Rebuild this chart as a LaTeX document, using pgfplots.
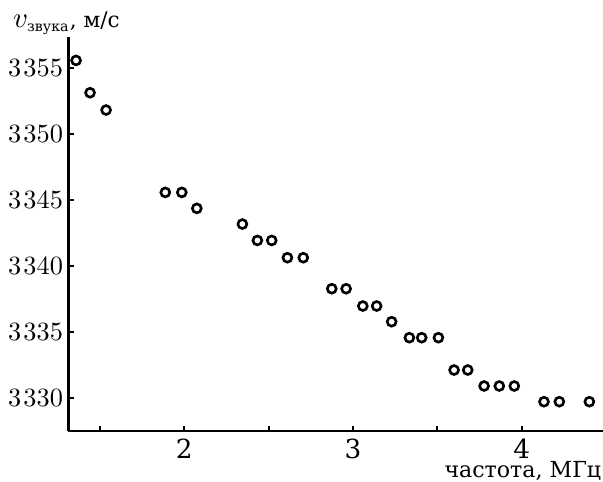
\documentclass[border=0pt]{standalone}
\usepackage{fontspec}
\setmainfont{DejaVu Serif}
\usepackage{pgfplots}
\pgfplotsset{compat=1.18}
\begin{document}
\begin{tikzpicture}[x=1pt,y=1pt]
\def\px{0.38}
\path[use as bounding box] (-68.3*\px,-51*\px) rectangle (534.7*\px,431*\px);
\begin{axis}[
  at={(0,0)}, anchor=south west,
  scale only axis,
  width=203.2pt, height=149.7pt,
  xmin=1.312, xmax=4.482,
  ymin=3327.48, ymax=3357.33,
  axis x line=bottom, axis y line=left,
  axis line style={line width=1pt, -},
  tick align=inside,
  major tick length=2pt,
  tick style={line width=0.75pt, black},
  xtick={1.5,2,2.5,3,3.5,4},
  xticklabels={,2,,3,,4},
  ytick={3330,3335,3340,3345,3350,3355},
  /pgf/number format/1000 sep={\kern0.08em},
  yticklabel style={xshift=1.5pt},
  xticklabel style={inner sep=1pt, yshift=-1.7pt},
  clip=false,
  xlabel={\fontsize{8.4}{9}\selectfont частота, МГц},
  xlabel style={at={(axis description cs:0.9975,-0.1185)}, anchor=base east, inner sep=0pt},
]
\addplot[only marks, mark=o, mark size=1.7pt, mark options={line width=1pt, black}] coordinates {
(1.358,3355.56) (1.441,3353.11) (1.536,3351.80)
(1.887,3345.56) (1.985,3345.56) (2.074,3344.35)
(2.344,3343.16) (2.433,3341.92) (2.518,3341.92)
(2.611,3340.61) (2.705,3340.61)
(2.874,3338.26) (2.959,3338.26)
(3.058,3336.95) (3.140,3336.95)
(3.229,3335.76)
(3.334,3334.55) (3.407,3334.55) (3.506,3334.55)
(3.599,3332.10) (3.680,3332.10)
(3.777,3330.89) (3.867,3330.89) (3.956,3330.89)
(4.132,3329.70) (4.223,3329.70) (4.401,3329.70)
};
\node[anchor=base west, inner sep=0pt] at (rel axis cs:-0.104,1.0254)
  {\fontsize{10.5}{12}\selectfont$v_{\mbox{\fontsize{5.4}{6}\selectfont звука}}$\fontsize{8.2}{9}\selectfont, м/с};
\end{axis}
\end{tikzpicture}
\end{document}
